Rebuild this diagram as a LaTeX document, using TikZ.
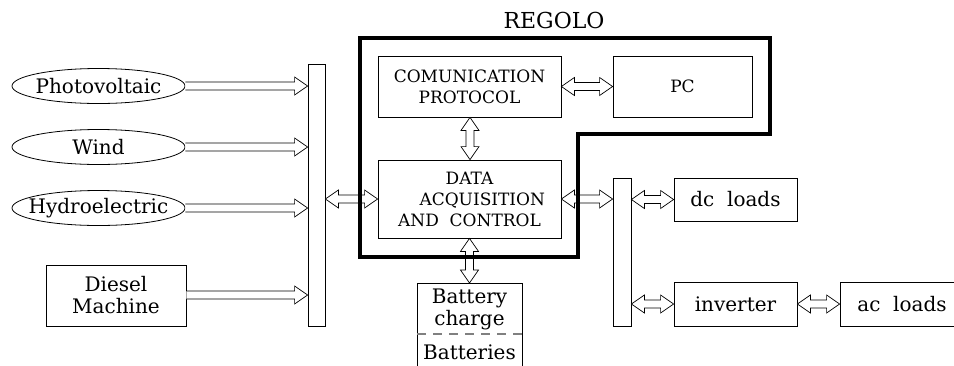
\documentclass[tikz,border=0pt]{standalone}
\usepackage{fontspec}
\setmainfont{DejaVu Serif}
\usetikzlibrary{shapes.geometric,calc}
\newcommand\mixfont{\fontsize{20}{22}\selectfont}
\newcommand\capfont{\fontsize{17}{21}\selectfont}
\newcommand\bigcapfont{\fontsize{22}{24}\selectfont}
\def\arrL{13pt}
\def\arrH{9pt}
\def\arrW{4pt}
\tikzset{
  box/.style={draw,line width=0.8pt,inner sep=0pt,align=center,font=\mixfont},
  capbox/.style={box,font=\capfont},
  src/.style={ellipse,draw,line width=0.8pt,minimum width=173pt,minimum height=35pt,inner xsep=-40pt,inner ysep=-8pt,font=\mixfont},
  bar/.style={draw,line width=0.8pt,inner sep=0pt},
  lbl/.style={inner sep=0pt,align=center,font=\mixfont},
  arr/.style={draw,fill=white,line width=0.7pt,line join=miter},
  frame/.style={draw,line width=3.5pt,line join=miter},
  sep/.style={draw=gray,line width=1.4pt,dash pattern=on 9pt off 7pt},
}
\newcommand\dblarrow[2]{%
  \path[arr] (#1) -- ($(#1)!\arrL!(#2)!\arrH!90:(#2)$) -- ($(#1)!\arrL!(#2)!\arrW!90:(#2)$)
   -- ($(#2)!\arrL!(#1)!\arrW!-90:(#1)$) -- ($(#2)!\arrL!(#1)!\arrH!-90:(#1)$) -- (#2)
   -- ($(#2)!\arrL!(#1)!\arrH!90:(#1)$) -- ($(#2)!\arrL!(#1)!\arrW!90:(#1)$)
   -- ($(#1)!\arrL!(#2)!\arrW!-90:(#2)$) -- ($(#1)!\arrL!(#2)!\arrH!-90:(#2)$) -- cycle;}
\newcommand\onearrow[2]{%
  \path[arr] ($(#1)!\arrW!90:(#2)$) -- ($(#2)!\arrL!(#1)!\arrW!-90:(#1)$)
   -- ($(#2)!\arrL!(#1)!\arrH!-90:(#1)$) -- (#2) -- ($(#2)!\arrL!(#1)!\arrH!90:(#1)$)
   -- ($(#2)!\arrL!(#1)!\arrW!90:(#1)$) -- ($(#1)!\arrW!-90:(#2)$);}
\begin{document}
\begin{tikzpicture}[x=1pt,y=-1pt]
\useasboundingbox (0,0) rectangle (954,365);
\clip (0,0) rectangle (954,365);
% sources
\node[src] (pv) at (98.5,86) {Photovoltaic};
\node[src] (wind) at (98.5,147) {Wind};
\node[src] (hydro) at (98.5,208) {Hydroelectric};
\node[box,minimum width=140pt,minimum height=61pt] (diesel) at (116,295.5) {Diesel\\Machine};
% left bar
\node[bar,minimum width=17pt,minimum height=262pt] (barL) at (316.5,195) {};
% regolo blocks
\node[inner sep=0pt,font=\bigcapfont] (regolo) at (554,20) {REGOLO};
\node[capbox,minimum width=183pt,minimum height=61pt] (comm) at (469.5,86.5) {COMUNICATION\\PROTOCOL};
\node[capbox,minimum width=139pt,minimum height=61pt] (pc) at (682.5,86.5) {PC};
\node[capbox,minimum width=183pt,minimum height=78pt] (data) at (469.5,199) {DATA\\\hspace*{1.5em}ACQUISITION\\AND\ \ CONTROL};
% right side
\node[bar,minimum width=18pt,minimum height=148pt] (barR) at (622,252) {};
\node[box,minimum width=123pt,minimum height=43pt] (dc) at (735.5,199.5) {dc\ \ loads};
\node[box,minimum width=123pt,minimum height=44pt] (inv) at (735.5,304) {inverter};
\node[box,minimum width=124pt,minimum height=44pt] (ac) at (902,304) {ac\ \ loads};
% battery
\coordinate (batTL) at (417,283);
\coordinate (batTR) at (522,283);
\coordinate (batTop) at (469.5,283);
\draw[line width=0.8pt] (417,370) -- (batTL) -- (batTR) -- (522,370);
\draw[sep] (417,334) -- (522,334);
\node[lbl] (charge) at (469.5,309) {Battery\\charge};
\node[lbl] (batts) at (469.5,352) {Batteries};
% connection points
\coordinate (pvT) at (barL.west |- pv.east);
\coordinate (windT) at (barL.west |- wind.east);
\coordinate (hydroT) at (barL.west |- hydro.east);
\coordinate (dieselS) at (diesel.east |- 0,295);
\coordinate (dieselT) at (barL.west |- 0,295);
\coordinate (barLd) at (barL.east |- data.west);
\coordinate (barRd) at (barR.west |- data.east);
\coordinate (barRdc) at (barR.east |- dc.west);
\coordinate (barRinv) at (barR.east |- inv.west);
\coordinate (commS) at (comm.south -| 470,0);
\coordinate (dataN) at (data.north -| 470,0);
\coordinate (dataS) at (data.south -| 469.5,0);
% arrows
\onearrow{pv.east}{pvT}
\onearrow{wind.east}{windT}
\onearrow{hydro.east}{hydroT}
\onearrow{dieselS}{dieselT}
\dblarrow{comm.east}{pc.west}
\dblarrow{commS}{dataN}
\dblarrow{barLd}{data.west}
\dblarrow{data.east}{barRd}
\dblarrow{barRdc}{dc.west}
\dblarrow{barRinv}{inv.west}
\dblarrow{inv.east}{ac.west}
\dblarrow{dataS}{batTop}
% REGOLO frame
\draw[frame] (360,38) -- (770,38) -- (770,134) -- (578,134) -- (578,257) -- (360,257) -- cycle;
\end{tikzpicture}
\end{document}
